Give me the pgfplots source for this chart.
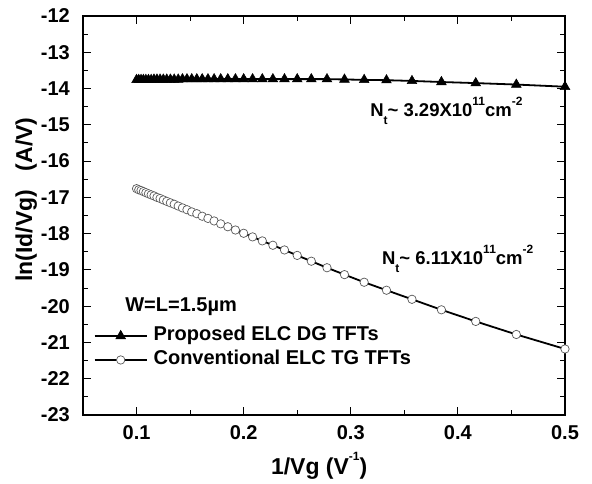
\documentclass[border=0pt]{standalone}
\usepackage{fontspec}
\setmainfont{Liberation Sans}
\usepackage{pgfplots}
\pgfplotsset{compat=1.18}

\newcommand{\ticksize}{\fontsize{20bp}{24bp}\selectfont\bfseries}
\newcommand{\labsize}{\fontsize{23bp}{27bp}\selectfont\bfseries}
\newcommand{\legsize}{\fontsize{20bp}{24bp}\selectfont\bfseries}
\newcommand{\notesize}{\fontsize{18.5bp}{22bp}\selectfont\bfseries}
\newcommand{\sups}[1]{\raisebox{0.62em}{\fontsize{12bp}{12bp}\selectfont\bfseries #1}}
\newcommand{\subs}[1]{\raisebox{-0.4em}{\fontsize{12bp}{12bp}\selectfont\bfseries #1}}

\begin{document}
\begin{tikzpicture}
\begin{axis}[
 at={(0,0)},anchor=south west,
 scale only axis,width=482bp,height=399bp,
 xmin=0.05,xmax=0.5,ymin=-23,ymax=-12,
 xtick={0.1,0.2,0.3,0.4,0.5},
 xticklabels={0.1,0.2,0.3,0.4,0.5},
 minor xtick={0.15,0.25,0.35,0.45},
 ytick={-23,-22,...,-12},
 yticklabels={-23,-22,-21,-20,-19,-18,-17,-16,-15,-14,-13,-12},
 minor ytick={-22.5,-21.5,...,-12.5},
 tick align=inside,
 major tick length=8bp,minor tick length=5bp,
 every tick/.style={black,line width=1bp},
 axis line style={line width=1.2bp},
 xticklabel style={font=\ticksize,inner sep=0pt,anchor=north,yshift=-10bp},
 yticklabel style={font=\ticksize,inner sep=0pt,anchor=east,xshift=-13bp},
 xlabel={1/Vg (V\sups{-1})},
 ylabel={ln(Id/Vg)\hspace{0.8em}(A/V)},
 label style={font=\labsize},
 xlabel style={at={(axis description cs:0.49,-0.128)},anchor=center},
 ylabel style={at={(axis description cs:-0.118,0.54)},anchor=center,rotate=0},
 legend style={draw=none,fill=none,font=\legsize,
   at={(axis description cs:0.022,0.168)},anchor=west,
   inner sep=0pt,row sep=6bp,
   nodes={inner sep=0pt,text height=14bp,text depth=4bp}},
 legend cell align=left,
 legend image code/.code={
   \draw[#1,mark repeat=2,mark phase=2] plot coordinates {(0bp,0bp) (26bp,0bp) (52bp,0bp)};
   \path (58bp,0bp);},
 ]
\addplot+[black,line width=1.8bp,mark=triangle*,mark size=5.6bp,
  mark options={fill=black,draw=black,line width=0.5bp}] coordinates {
 (0.1,-13.76) (0.10204,-13.76) (0.10417,-13.76) (0.10638,-13.76) (0.1087,-13.76)
 (0.11111,-13.76) (0.11364,-13.76) (0.11628,-13.75) (0.11905,-13.75) (0.12195,-13.75)
 (0.125,-13.75) (0.12821,-13.75) (0.13158,-13.75) (0.13514,-13.75) (0.13889,-13.75)
 (0.14286,-13.74) (0.14706,-13.74) (0.15152,-13.74) (0.15625,-13.74) (0.16129,-13.74)
 (0.16667,-13.74) (0.17241,-13.74) (0.17857,-13.74) (0.18519,-13.74) (0.19231,-13.74)
 (0.2,-13.74) (0.20833,-13.74) (0.21739,-13.74) (0.22727,-13.74) (0.2381,-13.74)
 (0.25,-13.74) (0.26316,-13.74) (0.27778,-13.74) (0.29412,-13.75) (0.3125,-13.76)
 (0.33333,-13.77) (0.35714,-13.79) (0.38462,-13.82) (0.41667,-13.85) (0.45455,-13.89)
 (0.5,-13.95)};
\addlegendentry{Proposed ELC DG TFTs}
\addplot+[black,line width=1.8bp,mark=*,mark size=4.2bp,
  mark options={fill=white,draw=black!65,line width=0.7bp}] coordinates {
 (0.1,-16.76) (0.10204,-16.79) (0.10417,-16.81) (0.10638,-16.84) (0.1087,-16.87)
 (0.11111,-16.90) (0.11364,-16.93) (0.11628,-16.96) (0.11905,-17.00) (0.12195,-17.03)
 (0.125,-17.07) (0.12821,-17.11) (0.13158,-17.15) (0.13514,-17.19) (0.13889,-17.24)
 (0.14286,-17.29) (0.14706,-17.34) (0.15152,-17.40) (0.15625,-17.45) (0.16129,-17.52)
 (0.16667,-17.58) (0.17241,-17.65) (0.17857,-17.73) (0.18519,-17.81) (0.19231,-17.90)
 (0.2,-17.99) (0.20833,-18.09) (0.21739,-18.20) (0.22727,-18.32) (0.2381,-18.45)
 (0.25,-18.60) (0.26316,-18.76) (0.27778,-18.94) (0.29412,-19.13) (0.3125,-19.34)
 (0.33333,-19.56) (0.35714,-19.81) (0.38462,-20.10) (0.41667,-20.42) (0.45455,-20.78)
 (0.5,-21.18)};
\addlegendentry{Conventional ELC TG TFTs}
\node[anchor=west,inner sep=0pt,font=\legsize] at (axis cs:0.0893,-20.02) {W=L=1.5\textmu m};
\node[anchor=base west,inner sep=0pt,font=\notesize] at (axis cs:0.318,-14.78)
  {N\subs{t}\textasciitilde{} 3.29X10\sups{11}cm\sups{-2}};
\node[anchor=base west,inner sep=0pt,font=\notesize] at (axis cs:0.329,-18.86)
  {N\subs{t}\textasciitilde{} 6.11X10\sups{11}cm\sups{-2}};
\end{axis}
\pgfresetboundingbox
\path (-83bp,-69bp) rectangle (509bp,415bp);
\end{tikzpicture}
\end{document}
